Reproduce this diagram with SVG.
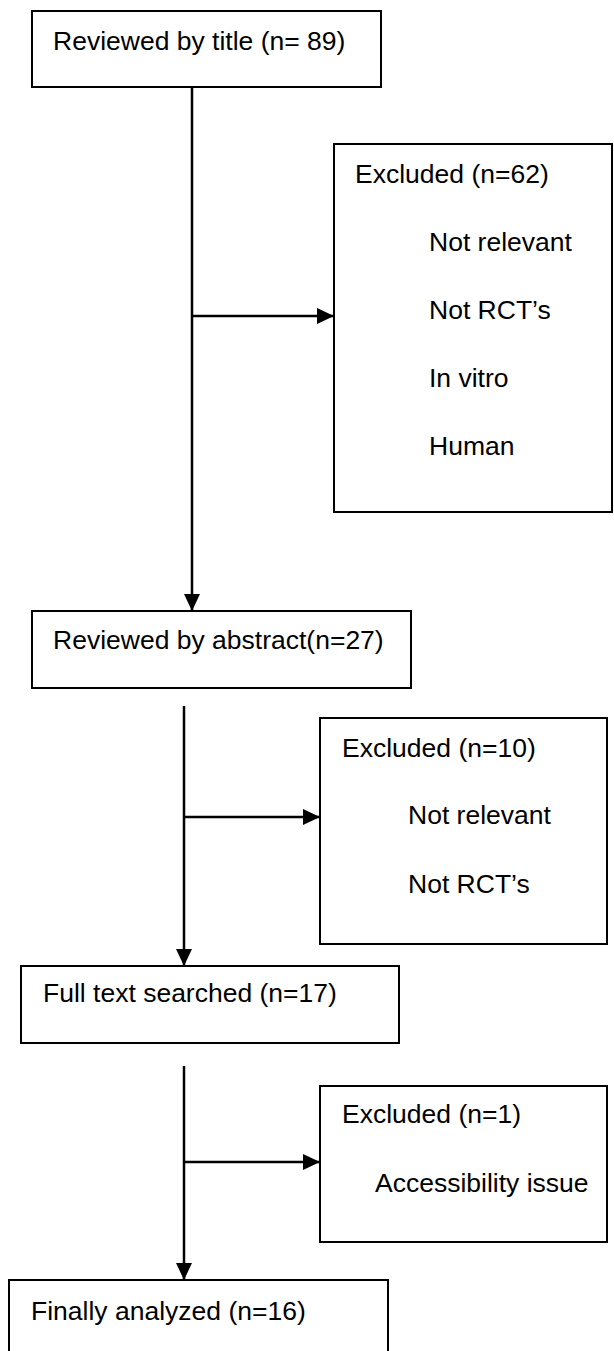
<svg xmlns="http://www.w3.org/2000/svg" width="614" height="1351" viewBox="0 0 614 1351">
<style>
.box{fill:#fff;stroke:#000;stroke-width:2}
.t{font-family:"Liberation Sans",Arial,sans-serif;font-size:26.5px;fill:#000}
.c{stroke:#000;stroke-width:2.5;fill:none}
</style>
<defs>
<marker id="ah" markerUnits="userSpaceOnUse" markerWidth="17" markerHeight="16" refX="17" refY="8" orient="auto">
<path d="M0,0 L17,8 L0,16 z" fill="#000"/>
</marker>
</defs>
<rect width="614" height="1351" fill="#fff"/>
<g id="connectors">
<line class="c" x1="192" y1="88" x2="192" y2="611" marker-end="url(#ah)"/>
<line class="c" x1="192" y1="316" x2="334" y2="316" marker-end="url(#ah)"/>
<line class="c" x1="184" y1="706" x2="184" y2="966" marker-end="url(#ah)"/>
<line class="c" x1="184" y1="817" x2="320" y2="817" marker-end="url(#ah)"/>
<line class="c" x1="184" y1="1066" x2="184" y2="1280" marker-end="url(#ah)"/>
<line class="c" x1="184" y1="1162" x2="320" y2="1162" marker-end="url(#ah)"/>
</g>
<g id="n1">
<rect class="box" x="32" y="11" width="349" height="76"/>
<text class="t" x="53" y="50">Reviewed by title (n= 89)</text>
</g>
<g id="e1">
<rect class="box" x="334" y="144" width="278" height="368"/>
<text class="t" x="355" y="183">Excluded (n=62)</text>
<text class="t" x="429" y="251">Not relevant</text>
<text class="t" x="429" y="319">Not RCT’s</text>
<text class="t" x="429" y="387">In vitro</text>
<text class="t" x="429" y="455">Human</text>
</g>
<g id="n2">
<rect class="box" x="32" y="611" width="379" height="77"/>
<text class="t" x="53" y="649">Reviewed by abstract(n=27)</text>
</g>
<g id="e2">
<rect class="box" x="320" y="718" width="287" height="226"/>
<text class="t" x="342" y="757">Excluded (n=10)</text>
<text class="t" x="408" y="824">Not relevant</text>
<text class="t" x="408" y="893">Not RCT’s</text>
</g>
<g id="n3">
<rect class="box" x="21" y="966" width="378" height="77"/>
<text class="t" x="43" y="1002">Full text searched (n=17)</text>
</g>
<g id="e3">
<rect class="box" x="320" y="1086" width="287" height="156"/>
<text class="t" x="342" y="1123">Excluded (n=1)</text>
<text class="t" x="375" y="1192">Accessibility issue</text>
</g>
<g id="n4">
<rect class="box" x="9" y="1280" width="379" height="90"/>
<text class="t" x="31" y="1320">Finally analyzed (n=16)</text>
</g>
</svg>
